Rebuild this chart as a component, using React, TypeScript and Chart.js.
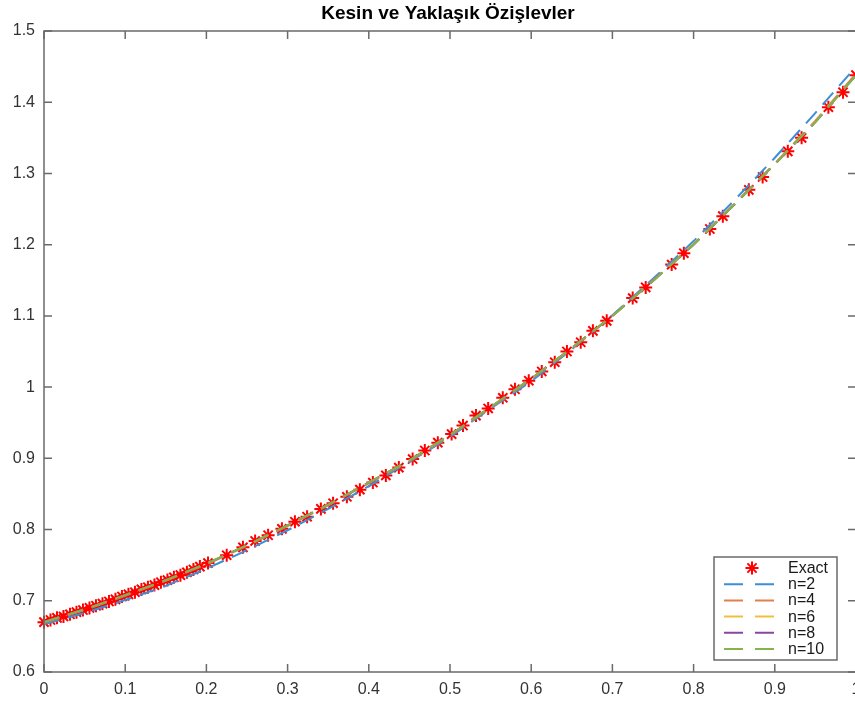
import { useEffect, useRef } from 'react';
import { Chart, registerables } from 'chart.js';
Chart.register(...registerables);

const titleText = 'Kesin ve Yaklaşık Özişlevler';
const seriesNames = ['Exact', 'n=2', 'n=4', 'n=6', 'n=8', 'n=10'];

const exactX = [
  0.0, 0.008, 0.016, 0.024, 0.032, 0.04, 0.048, 0.056, 0.064, 0.072, 0.08, 0.088, 0.096,
  0.104, 0.112, 0.12, 0.128, 0.136, 0.144, 0.152, 0.16, 0.168, 0.176, 0.184, 0.192,
  0.202, 0.225, 0.245, 0.26, 0.276, 0.293, 0.309, 0.324, 0.341, 0.356, 0.373, 0.389,
  0.405, 0.421, 0.437, 0.454, 0.469, 0.485, 0.502, 0.516, 0.532, 0.547, 0.565, 0.58,
  0.597, 0.613, 0.629, 0.644, 0.661, 0.676, 0.693, 0.725, 0.741, 0.773, 0.788, 0.82,
  0.836, 0.868, 0.885, 0.916, 0.933, 0.966, 0.984, 1.0,
];
const exactY = [
  0.670, 0.673, 0.676, 0.678, 0.681, 0.684, 0.687, 0.690, 0.693, 0.696, 0.699, 0.702, 0.706,
  0.709, 0.712, 0.716, 0.719, 0.722, 0.726, 0.729, 0.733, 0.736, 0.740, 0.744, 0.748,
  0.753, 0.764, 0.775, 0.784, 0.792, 0.801, 0.811, 0.818, 0.829, 0.837, 0.846, 0.856,
  0.866, 0.876, 0.887, 0.899, 0.911, 0.922, 0.934, 0.946, 0.960, 0.970, 0.985, 0.997,
  1.009, 1.022, 1.035, 1.050, 1.063, 1.079, 1.093, 1.125, 1.140, 1.172, 1.188, 1.222,
  1.240, 1.277, 1.295, 1.331, 1.350, 1.393, 1.414, 1.438,
];

const gridX = [0, 0.05, 0.1, 0.15, 0.2, 0.25, 0.3, 0.35, 0.4, 0.45, 0.5, 0.55, 0.6, 0.65, 0.7, 0.75, 0.8, 0.85, 0.9, 0.95, 1.0];
const n2Y = [0.667, 0.683, 0.701, 0.721, 0.745, 0.771, 0.799, 0.829, 0.861, 0.895, 0.930, 0.970, 1.008, 1.053, 1.101, 1.152, 1.205, 1.262, 1.322, 1.385, 1.450];
const n4Y = [0.669, 0.687, 0.707, 0.728, 0.751, 0.777, 0.805, 0.834, 0.865, 0.896, 0.932, 0.971, 1.011, 1.054, 1.100, 1.150, 1.201, 1.257, 1.314, 1.374, 1.440];
const n6Y = [0.670, 0.688, 0.708, 0.729, 0.752, 0.778, 0.806, 0.835, 0.866, 0.897, 0.933, 0.972, 1.012, 1.055, 1.100, 1.149, 1.201, 1.256, 1.313, 1.373, 1.438];
const n8Y = [0.670, 0.688, 0.708, 0.729, 0.752, 0.778, 0.806, 0.835, 0.866, 0.897, 0.933, 0.972, 1.012, 1.055, 1.100, 1.149, 1.200, 1.256, 1.313, 1.372, 1.438];
const n10Y = [0.670, 0.688, 0.708, 0.729, 0.752, 0.778, 0.806, 0.835, 0.866, 0.897, 0.933, 0.972, 1.012, 1.055, 1.100, 1.149, 1.200, 1.256, 1.313, 1.372, 1.438];

const lineColors = ['#3a8fd8', '#e0804f', '#efbf3e', '#8a45a3', '#83b54a'];
const exactColor = '#ff0000';
const FONT = '"Liberation Sans", Arial, Helvetica, sans-serif';

const fmt = (v: number) => String(Number(v.toFixed(1)));

const axesPlugin = {
  id: 'matlabAxes',
  afterDraw(chart: any) {
    const { ctx, chartArea: a, scales } = chart;
    const x = scales.x;
    const y = scales.y;
    ctx.save();
    ctx.strokeStyle = '#6a6a6a';
    ctx.lineWidth = 1.5;
    ctx.strokeRect(a.left, a.top, a.right - a.left, a.bottom - a.top);
    const tl = 8;
    ctx.beginPath();
    x.ticks.forEach((t: any) => {
      const px = x.getPixelForValue(t.value);
      ctx.moveTo(px, a.bottom); ctx.lineTo(px, a.bottom - tl);
      ctx.moveTo(px, a.top); ctx.lineTo(px, a.top + tl);
    });
    y.ticks.forEach((t: any) => {
      const py = y.getPixelForValue(t.value);
      ctx.moveTo(a.left, py); ctx.lineTo(a.left + tl, py);
      ctx.moveTo(a.right, py); ctx.lineTo(a.right - tl, py);
    });
    ctx.stroke();

    // title
    ctx.fillStyle = '#000';
    ctx.font = `bold 19px ${FONT}`;
    ctx.textAlign = 'center';
    ctx.textBaseline = 'middle';
    ctx.fillText(titleText, 448, 14);

    // legend
    const lx = 714, ly = 557, lw = 123, lh = 103;
    ctx.fillStyle = '#fff';
    ctx.fillRect(lx, ly, lw, lh);
    ctx.strokeStyle = '#6a6a6a';
    ctx.lineWidth = 1.5;
    ctx.strokeRect(lx, ly, lw, lh);
    ctx.font = `16px ${FONT}`;
    ctx.textAlign = 'left';
    ctx.textBaseline = 'middle';
    seriesNames.forEach((name, i) => {
      const yy = 568 + i * 16.2;
      if (i === 0) {
        ctx.strokeStyle = exactColor;
        ctx.lineWidth = 2;
        const r = 6.5;
        ctx.beginPath();
        for (let k = 0; k < 4; k++) {
          const ang = (k * Math.PI) / 4;
          ctx.moveTo(752 - r * Math.cos(ang), yy - r * Math.sin(ang));
          ctx.lineTo(752 + r * Math.cos(ang), yy + r * Math.sin(ang));
        }
        ctx.stroke();
      } else {
        ctx.strokeStyle = lineColors[i - 1];
        ctx.lineWidth = 2;
        ctx.beginPath();
        ctx.moveTo(724, yy); ctx.lineTo(743, yy);
        ctx.moveTo(755, yy); ctx.lineTo(774, yy);
        ctx.stroke();
      }
      ctx.fillStyle = '#1a1a1a';
      ctx.fillText(name, 788, yy + 0.5);
    });
    ctx.restore();
  },
};

export default function App() {
  const ref = useRef<HTMLCanvasElement | null>(null);
  useEffect(() => {
    if (!ref.current) return;
    const mk = (xs: number[], ys: number[]) => xs.map((v, i) => ({ x: v, y: ys[i] }));
    const lineSets = [n2Y, n4Y, n6Y, n8Y, n10Y].map((ys, i) => ({
      label: seriesNames[i + 1],
      data: mk(gridX, ys),
      showLine: true,
      borderColor: lineColors[i],
      backgroundColor: lineColors[i],
      borderWidth: 2,
      borderDash: [16, 9],
      pointRadius: 0,
      tension: 0,
      order: 4 - i,
    }));
    const chart = new Chart(ref.current, {
      type: 'scatter',
      data: {
        datasets: [
          {
            label: seriesNames[0],
            data: mk(exactX, exactY),
            showLine: false,
            pointStyle: 'star',
            pointRadius: 6.5,
            pointBorderWidth: 2,
            borderColor: exactColor,
            backgroundColor: exactColor,
            clip: false,
            order: 10,
          } as any,
          ...lineSets,
        ],
      },
      options: {
        responsive: false,
        animation: false,
        events: [],
        layout: { padding: { left: 0, right: 14, top: 31, bottom: 0 } },
        plugins: { legend: { display: false }, title: { display: false }, tooltip: { enabled: false } },
        scales: {
          x: {
            type: 'linear',
            min: 0,
            max: 1,
            border: { display: false },
            grid: { display: false, drawTicks: false },
            ticks: {
              stepSize: 0.1,
              padding: 8,
              color: '#333',
              font: { family: FONT, size: 16 },
              maxRotation: 0,
              autoSkip: false,
              callback: (v: any) => fmt(Number(v)),
            },
            afterFit: (s: any) => { s.height = 30; },
          },
          y: {
            type: 'linear',
            min: 0.6,
            max: 1.5,
            border: { display: false },
            grid: { display: false, drawTicks: false },
            ticks: {
              stepSize: 0.1,
              padding: 9,
              color: '#333',
              font: { family: FONT, size: 16 },
              autoSkip: false,
              callback: (v: any) => fmt(Number(v)),
            },
            afterFit: (s: any) => { s.width = 44; },
          },
        },
      },
      plugins: [axesPlugin],
    });
    return () => chart.destroy();
  }, []);
  return (
    <div style={{ position: 'fixed', left: 0, top: 0, width: 855, height: 702, overflow: 'hidden', background: '#fff' }}>
      <canvas ref={ref} width={870} height={702} style={{ width: 870, height: 702, display: 'block' }} />
    </div>
  );
}
